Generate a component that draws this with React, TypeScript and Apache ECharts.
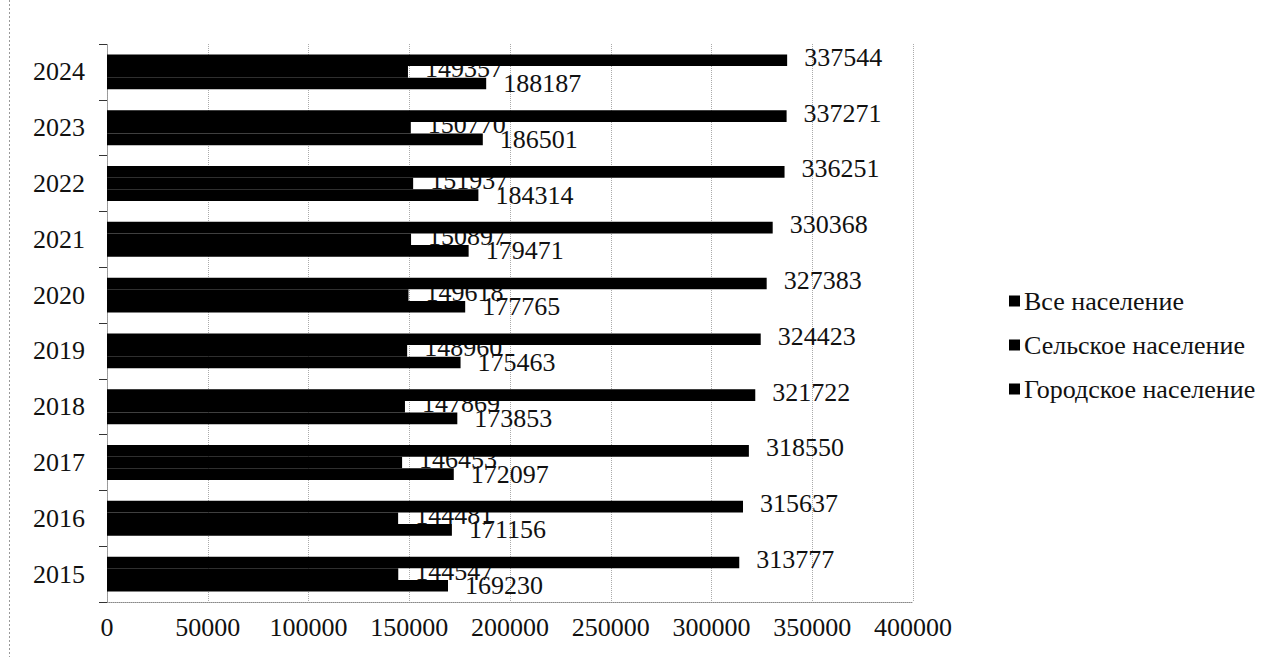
import React, { useEffect, useRef } from "react";
import * as echarts from "echarts";

const years = ["2015", "2016", "2017", "2018", "2019", "2020", "2021", "2022", "2023", "2024"];
const urban = [169230, 171156, 172097, 173853, 175463, 177765, 179471, 184314, 186501, 188187];
const rural = [144547, 144481, 146453, 147869, 148960, 149618, 150897, 151937, 150770, 149357];
const total = [313777, 315637, 318550, 321722, 324423, 327383, 330368, 336251, 337271, 337544];
const seriesNames = ["Все население", "Сельское население", "Городское население"];
const legendOrder = ["Все население", "Сельское население", "Городское население"];

const FONT = "'Liberation Serif', 'Times New Roman', serif";

export default function App() {
  const ref = useRef<HTMLDivElement>(null);
  useEffect(() => {
    if (!ref.current) return;
    const chart = echarts.init(ref.current, null, { renderer: "svg" });
    const labelBase = {
      show: true,
      position: "right" as const,
      distance: 17,
      color: "#111",
      fontFamily: FONT,
      fontSize: 26,
    };
    const barStyle = { color: "#000", borderColor: "#000", borderWidth: 1.6 };
    chart.setOption({
      animation: false,
      backgroundColor: "#fff",
      textStyle: { fontFamily: FONT },
      grid: { left: 107, right: 366, top: 44, bottom: 55, containLabel: false },
      legend: {
        orient: "vertical",
        left: 1004,
        top: 283,
        itemWidth: 9,
        itemHeight: 9,
        itemGap: 18,
        icon: "rect",
        data: legendOrder,
        textStyle: { fontFamily: FONT, fontSize: 26, color: "#111" },
      },
      xAxis: {
        type: "value",
        min: 0,
        max: 400000,
        interval: 50000,
        axisLine: { show: true, lineStyle: { color: "#888", type: "dotted" } },
        axisTick: { show: false },
        splitLine: { show: true, lineStyle: { color: "#aaa", type: "dotted", width: 1 } },
        axisLabel: {
          color: "#111",
          fontFamily: FONT,
          fontSize: 26,
          margin: 12,
          formatter: (v: number) => String(v),
        },
      },
      yAxis: {
        type: "category",
        data: years,
        axisLine: { show: true, lineStyle: { color: "#999", type: "dotted" } },
        axisTick: { show: true, length: 8, lineStyle: { color: "#333" } },
        axisLabel: { color: "#111", fontFamily: FONT, fontSize: 26, margin: 22 },
      },
      graphic: [
        {
          type: "line",
          shape: { x1: 9.5, y1: 0, x2: 9.5, y2: 657 },
          style: { stroke: "#999", lineWidth: 1, lineDash: [2, 2] },
        },
      ],
      series: [
        {
          name: seriesNames[0],
          type: "bar",
          data: total,
          z: 3,
          barGap: "0%",
          barCategoryGap: "37.5%",
          itemStyle: barStyle,
          label: { ...labelBase, offset: [0, -3] },
        },
        {
          name: seriesNames[1],
          type: "bar",
          data: rural,
          z: 2,
          barGap: "0%",
          barCategoryGap: "37.5%",
          itemStyle: barStyle,
          label: { ...labelBase, offset: [0, -3] },
        },
        {
          name: seriesNames[2],
          type: "bar",
          data: urban,
          z: 2,
          barGap: "0%",
          barCategoryGap: "37.5%",
          itemStyle: barStyle,
          label: { ...labelBase },
        },
      ],
    });
    return () => chart.dispose();
  }, []);
  return (
    <div
      ref={ref}
      style={{ position: "absolute", left: 0, top: 0, width: 1279, height: 657, background: "#fff" }}
    />
  );
}
